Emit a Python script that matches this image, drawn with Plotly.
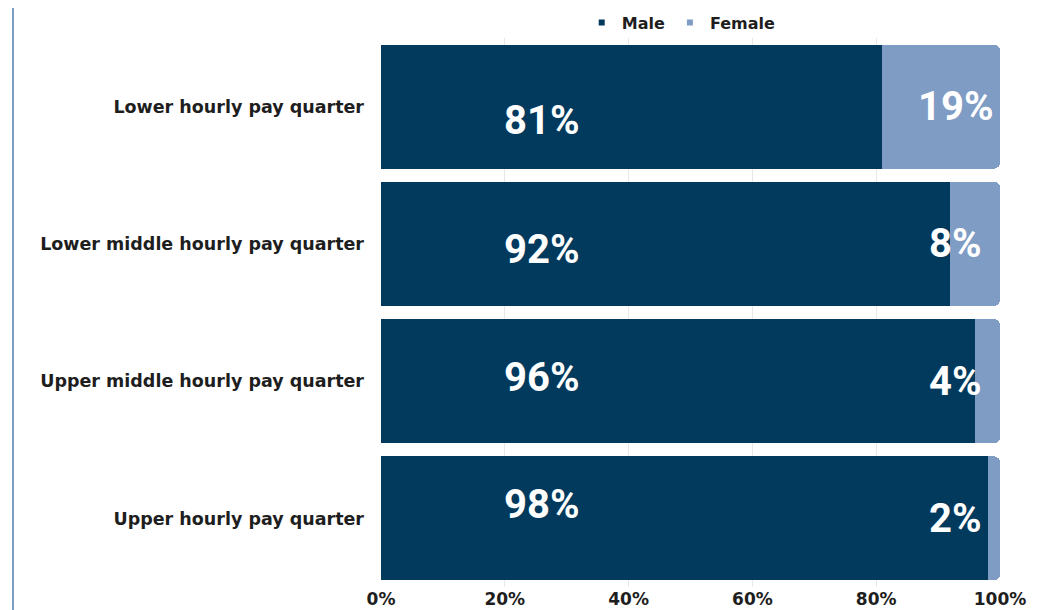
import plotly.graph_objects as go

categories = ["Lower hourly pay quarter", "Lower middle hourly pay quarter",
              "Upper middle hourly pay quarter", "Upper hourly pay quarter"]
male = [81, 92, 96, 98]
female = [19, 8, 4, 2]
x_ticks = [0, 20, 40, 60, 80, 100]
x_tick_labels = ["0%", "20%", "40%", "60%", "80%", "100%"]

MALE_C = "#023a5e"
FEMALE_C = "#7e9cc4"
TEXT_C = "#1e1e1e"
BOLD_FONT = "DejaVu Sans, Verdana, sans-serif"
label_font = dict(family="Roboto, Liberation Sans, sans-serif", size=40, color="white")

fig = go.Figure()
fig.add_trace(go.Bar(y=categories, x=male, name="Male", orientation="h", showlegend=False,
                     marker=dict(color=MALE_C, line=dict(width=0), cornerradius=6)))
fig.add_trace(go.Bar(y=categories, x=female, name="Female", orientation="h", showlegend=False,
                     marker=dict(color=FEMALE_C, line=dict(width=0), cornerradius=6)))
# legend-only entries with small square markers
for nm, col in [("Male", MALE_C), ("Female", FEMALE_C)]:
    fig.add_trace(go.Scatter(x=[None], y=[None], mode="markers", name=f"<b>{nm}</b>",
                             marker=dict(symbol="square", size=6, color=col)))

male_yshift = [-14, -6, 4, 14]
for i, (c, m, f) in enumerate(zip(categories, male, female)):
    fig.add_annotation(x=26.0, y=c, xref="x", yref="y", text=f"<b>{m}%</b>",
                       showarrow=False, font=label_font, yshift=male_yshift[i])
    fig.add_annotation(x=92.8, y=c, xref="x", yref="y", text=f"<b>{f}%</b>",
                       showarrow=False, font=label_font)

fig.add_shape(type="line", xref="paper", yref="paper", x0=-0.5945, x1=-0.5945,
              y0=-0.2, y1=1.2, line=dict(color="#7e9cc4", width=2))

# page body adds an 8px margin, so the figure is sized to fit the 1057x610 window
fig.update_layout(
    width=1049, height=602,
    barmode="stack", bargap=0.095,
    paper_bgcolor="white", plot_bgcolor="white",
    margin=dict(l=373, r=57, t=29.5, b=22.5, autoexpand=False),
    showlegend=True,
    legend=dict(orientation="h", x=0.485, xanchor="center", y=1.028, yanchor="middle",
                font=dict(family=BOLD_FONT, size=16, color=TEXT_C),
                itemwidth=30, traceorder="normal", bgcolor="rgba(0,0,0,0)"),
    font=dict(family=BOLD_FONT),
)
fig.update_xaxes(range=[0, 100], tickvals=x_ticks, ticktext=[f"<b>{t}</b>" for t in x_tick_labels],
                 showgrid=True, gridcolor="#e8e8e8", zeroline=False, showline=False,
                 tickfont=dict(family=BOLD_FONT, size=17, color=TEXT_C), ticklen=0)
fig.update_yaxes(autorange="reversed", tickvals=categories,
                 ticktext=[f"<b>{c}</b>" for c in categories],
                 tickfont=dict(family=BOLD_FONT, size=17.5, color=TEXT_C), ticklabelstandoff=16,
                 showgrid=False, zeroline=False, showline=False)

fig.write_html("out.html")
